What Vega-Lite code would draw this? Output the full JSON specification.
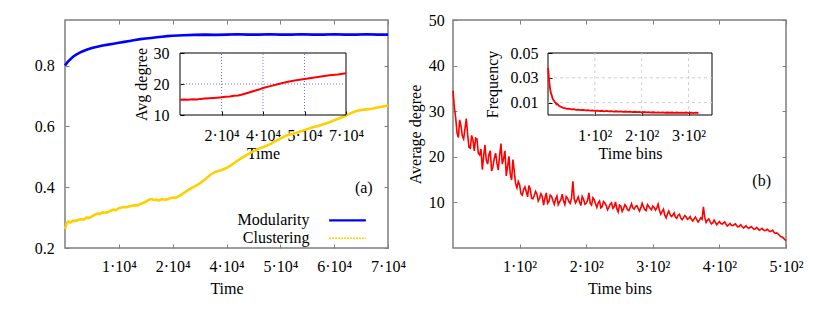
{
  "$schema": "https://vega.github.io/schema/vega-lite/v6.json",
  "padding": {"left": 33, "top": 11, "right": 5, "bottom": 5},
  "spacing": -1,
  "config": {
    "font": "Liberation Serif",
    "view": {"stroke": "#7f7f7f", "strokeWidth": 1.5},
    "axis": {"labelFont": "Liberation Serif", "titleFont": "Liberation Serif", "labelFontSize": 16, "titleFontSize": 16, "titleFontWeight": "normal", "labelColor": "#000", "titleColor": "#000", "grid": false, "tickColor": "#7f7f7f", "labelFlush": false, "labelOverlap": false},
    "legend": {"labelFont": "Liberation Serif"},
    "text": {"font": "Liberation Serif", "fontSize": 16}
  },
  "datasets": {
    "left": [
      {"series":"Modularity","t":0,"v":0.800},{"series":"Modularity","t":0.05,"v":0.812},{"series":"Modularity","t":0.1,"v":0.821},{"series":"Modularity","t":0.15,"v":0.829},{"series":"Modularity","t":0.2,"v":0.835},{"series":"Modularity","t":0.3,"v":0.845},{"series":"Modularity","t":0.4,"v":0.852},{"series":"Modularity","t":0.5,"v":0.858},{"series":"Modularity","t":0.6,"v":0.862},{"series":"Modularity","t":0.7,"v":0.866},{"series":"Modularity","t":0.8,"v":0.869},{"series":"Modularity","t":0.9,"v":0.872},{"series":"Modularity","t":1.0,"v":0.875},{"series":"Modularity","t":1.1,"v":0.878},{"series":"Modularity","t":1.2,"v":0.881},{"series":"Modularity","t":1.3,"v":0.884},{"series":"Modularity","t":1.4,"v":0.887},{"series":"Modularity","t":1.5,"v":0.889},{"series":"Modularity","t":1.6,"v":0.891},{"series":"Modularity","t":1.7,"v":0.893},{"series":"Modularity","t":1.8,"v":0.895},{"series":"Modularity","t":1.9,"v":0.897},{"series":"Modularity","t":2.0,"v":0.898},{"series":"Modularity","t":2.2,"v":0.900},{"series":"Modularity","t":2.4,"v":0.901},{"series":"Modularity","t":2.6,"v":0.902},{"series":"Modularity","t":2.8,"v":0.901},{"series":"Modularity","t":3.0,"v":0.902},{"series":"Modularity","t":3.2,"v":0.903},{"series":"Modularity","t":3.4,"v":0.902},{"series":"Modularity","t":3.6,"v":0.902},{"series":"Modularity","t":3.8,"v":0.903},{"series":"Modularity","t":4.0,"v":0.902},{"series":"Modularity","t":4.2,"v":0.902},{"series":"Modularity","t":4.4,"v":0.903},{"series":"Modularity","t":4.6,"v":0.902},{"series":"Modularity","t":4.8,"v":0.902},{"series":"Modularity","t":5.0,"v":0.903},{"series":"Modularity","t":5.2,"v":0.902},{"series":"Modularity","t":5.4,"v":0.902},{"series":"Modularity","t":5.6,"v":0.903},{"series":"Modularity","t":5.8,"v":0.902},{"series":"Modularity","t":6.0,"v":0.902},
      {"series":"Clustering","t":0,"v":0.262},{"series":"Clustering","t":0.03,"v":0.280},{"series":"Clustering","t":0.06,"v":0.287},{"series":"Clustering","t":0.1,"v":0.284},{"series":"Clustering","t":0.15,"v":0.290},{"series":"Clustering","t":0.2,"v":0.289},{"series":"Clustering","t":0.25,"v":0.293},{"series":"Clustering","t":0.3,"v":0.295},{"series":"Clustering","t":0.35,"v":0.294},{"series":"Clustering","t":0.4,"v":0.300},{"series":"Clustering","t":0.45,"v":0.299},{"series":"Clustering","t":0.5,"v":0.304},{"series":"Clustering","t":0.55,"v":0.309},{"series":"Clustering","t":0.6,"v":0.313},{"series":"Clustering","t":0.65,"v":0.312},{"series":"Clustering","t":0.7,"v":0.317},{"series":"Clustering","t":0.75,"v":0.316},{"series":"Clustering","t":0.8,"v":0.318},{"series":"Clustering","t":0.85,"v":0.323},{"series":"Clustering","t":0.9,"v":0.326},{"series":"Clustering","t":0.95,"v":0.325},{"series":"Clustering","t":1.0,"v":0.331},{"series":"Clustering","t":1.05,"v":0.333},{"series":"Clustering","t":1.1,"v":0.335},{"series":"Clustering","t":1.15,"v":0.334},{"series":"Clustering","t":1.2,"v":0.337},{"series":"Clustering","t":1.25,"v":0.339},{"series":"Clustering","t":1.3,"v":0.341},{"series":"Clustering","t":1.35,"v":0.340},{"series":"Clustering","t":1.4,"v":0.345},{"series":"Clustering","t":1.45,"v":0.348},{"series":"Clustering","t":1.5,"v":0.352},{"series":"Clustering","t":1.55,"v":0.358},{"series":"Clustering","t":1.6,"v":0.361},{"series":"Clustering","t":1.65,"v":0.358},{"series":"Clustering","t":1.7,"v":0.359},{"series":"Clustering","t":1.75,"v":0.357},{"series":"Clustering","t":1.8,"v":0.361},{"series":"Clustering","t":1.85,"v":0.359},{"series":"Clustering","t":1.9,"v":0.360},{"series":"Clustering","t":1.95,"v":0.364},{"series":"Clustering","t":2.0,"v":0.366},{"series":"Clustering","t":2.05,"v":0.365},{"series":"Clustering","t":2.1,"v":0.369},{"series":"Clustering","t":2.15,"v":0.374},{"series":"Clustering","t":2.2,"v":0.380},{"series":"Clustering","t":2.3,"v":0.392},{"series":"Clustering","t":2.4,"v":0.402},{"series":"Clustering","t":2.5,"v":0.412},{"series":"Clustering","t":2.6,"v":0.425},{"series":"Clustering","t":2.7,"v":0.441},{"series":"Clustering","t":2.8,"v":0.451},{"series":"Clustering","t":2.9,"v":0.456},{"series":"Clustering","t":3.0,"v":0.463},{"series":"Clustering","t":3.1,"v":0.474},{"series":"Clustering","t":3.2,"v":0.487},{"series":"Clustering","t":3.3,"v":0.498},{"series":"Clustering","t":3.4,"v":0.509},{"series":"Clustering","t":3.5,"v":0.518},{"series":"Clustering","t":3.6,"v":0.527},{"series":"Clustering","t":3.7,"v":0.533},{"series":"Clustering","t":3.8,"v":0.541},{"series":"Clustering","t":3.9,"v":0.551},{"series":"Clustering","t":4.0,"v":0.560},{"series":"Clustering","t":4.1,"v":0.569},{"series":"Clustering","t":4.2,"v":0.574},{"series":"Clustering","t":4.3,"v":0.579},{"series":"Clustering","t":4.4,"v":0.585},{"series":"Clustering","t":4.5,"v":0.591},{"series":"Clustering","t":4.6,"v":0.597},{"series":"Clustering","t":4.7,"v":0.601},{"series":"Clustering","t":4.8,"v":0.607},{"series":"Clustering","t":4.9,"v":0.613},{"series":"Clustering","t":5.0,"v":0.620},{"series":"Clustering","t":5.1,"v":0.627},{"series":"Clustering","t":5.2,"v":0.634},{"series":"Clustering","t":5.3,"v":0.643},{"series":"Clustering","t":5.4,"v":0.650},{"series":"Clustering","t":5.5,"v":0.654},{"series":"Clustering","t":5.6,"v":0.656},{"series":"Clustering","t":5.7,"v":0.658},{"series":"Clustering","t":5.8,"v":0.662},{"series":"Clustering","t":5.9,"v":0.665},{"series":"Clustering","t":6.0,"v":0.669}
    ],
    "avg": [
      {"t":0,"v":14.9},{"t":0.1,"v":15.0},{"t":0.2,"v":14.9},{"t":0.3,"v":15.1},{"t":0.4,"v":15.0},{"t":0.5,"v":15.2},{"t":0.6,"v":15.3},{"t":0.7,"v":15.4},{"t":0.8,"v":15.5},{"t":0.9,"v":15.6},{"t":1.0,"v":15.7},{"t":1.1,"v":15.9},{"t":1.2,"v":16.0},{"t":1.3,"v":16.2},{"t":1.4,"v":16.3},{"t":1.5,"v":16.6},{"t":1.6,"v":17.0},{"t":1.7,"v":17.4},{"t":1.8,"v":17.8},{"t":1.9,"v":18.2},{"t":2.0,"v":18.7},{"t":2.2,"v":19.4},{"t":2.4,"v":20.1},{"t":2.6,"v":20.7},{"t":2.8,"v":21.2},{"t":3.0,"v":21.6},{"t":3.2,"v":22.0},{"t":3.4,"v":22.4},{"t":3.6,"v":22.8},{"t":3.8,"v":23.1},{"t":4.0,"v":23.5}
    ],
    "deg": [
      {"bin":0,"deg":34.5},{"bin":2,"deg":30.9},{"bin":4,"deg":28.6},{"bin":6,"deg":25.3},{"bin":8,"deg":24.2},{"bin":10,"deg":28.1},{"bin":12,"deg":26.8},{"bin":14,"deg":24.6},{"bin":16,"deg":23.9},{"bin":18,"deg":26.2},{"bin":20,"deg":28.4},{"bin":22,"deg":24.8},{"bin":24,"deg":22.1},{"bin":26,"deg":21.9},{"bin":28,"deg":24.7},{"bin":30,"deg":23.6},{"bin":32,"deg":21.3},{"bin":34,"deg":24.1},{"bin":36,"deg":23.9},{"bin":38,"deg":20.8},{"bin":40,"deg":20.4},{"bin":42,"deg":21.7},{"bin":44,"deg":17.2},{"bin":46,"deg":20.1},{"bin":48,"deg":22.6},{"bin":50,"deg":19.2},{"bin":52,"deg":18.4},{"bin":54,"deg":20.5},{"bin":56,"deg":21.3},{"bin":58,"deg":16.9},{"bin":60,"deg":17.9},{"bin":62,"deg":19.7},{"bin":64,"deg":20.8},{"bin":66,"deg":18.6},{"bin":68,"deg":17.1},{"bin":70,"deg":20.3},{"bin":72,"deg":22.9},{"bin":74,"deg":18.4},{"bin":76,"deg":19.6},{"bin":78,"deg":21.3},{"bin":80,"deg":15.8},{"bin":82,"deg":17.9},{"bin":84,"deg":20.1},{"bin":86,"deg":16.2},{"bin":88,"deg":14.9},{"bin":90,"deg":19.4},{"bin":92,"deg":16.8},{"bin":94,"deg":14.1},{"bin":96,"deg":13.2},{"bin":98,"deg":14.6},{"bin":100,"deg":13.9},{"bin":102,"deg":11.9},{"bin":104,"deg":11.6},{"bin":106,"deg":12.8},{"bin":108,"deg":13.4},{"bin":110,"deg":12.4},{"bin":112,"deg":11.2},{"bin":114,"deg":13.7},{"bin":116,"deg":12.9},{"bin":118,"deg":10.9},{"bin":120,"deg":10.8},{"bin":122,"deg":11.5},{"bin":124,"deg":12.4},{"bin":126,"deg":11.8},{"bin":128,"deg":10.3},{"bin":130,"deg":10.9},{"bin":132,"deg":11.9},{"bin":134,"deg":11.3},{"bin":136,"deg":9.4},{"bin":138,"deg":10.9},{"bin":140,"deg":12.1},{"bin":142,"deg":9.8},{"bin":144,"deg":10.2},{"bin":146,"deg":11.6},{"bin":148,"deg":11.3},{"bin":150,"deg":10.4},{"bin":152,"deg":9.6},{"bin":154,"deg":10.7},{"bin":156,"deg":11.4},{"bin":158,"deg":9.5},{"bin":160,"deg":10.1},{"bin":162,"deg":10.6},{"bin":164,"deg":11.8},{"bin":166,"deg":10.3},{"bin":168,"deg":9.5},{"bin":170,"deg":11.3},{"bin":172,"deg":10.9},{"bin":174,"deg":10.2},{"bin":176,"deg":9.8},{"bin":178,"deg":11.0},{"bin":180,"deg":14.6},{"bin":182,"deg":10.8},{"bin":184,"deg":9.9},{"bin":186,"deg":10.5},{"bin":188,"deg":11.2},{"bin":190,"deg":10.1},{"bin":192,"deg":9.3},{"bin":194,"deg":11.3},{"bin":196,"deg":10.7},{"bin":198,"deg":9.6},{"bin":200,"deg":9.8},{"bin":202,"deg":10.4},{"bin":204,"deg":12.1},{"bin":206,"deg":9.8},{"bin":208,"deg":9.4},{"bin":210,"deg":11.0},{"bin":212,"deg":10.6},{"bin":214,"deg":9.7},{"bin":216,"deg":8.9},{"bin":218,"deg":9.9},{"bin":220,"deg":10.3},{"bin":222,"deg":8.8},{"bin":224,"deg":9.1},{"bin":226,"deg":10.2},{"bin":228,"deg":9.9},{"bin":230,"deg":9.3},{"bin":232,"deg":8.4},{"bin":234,"deg":8.9},{"bin":236,"deg":9.6},{"bin":238,"deg":9.9},{"bin":240,"deg":8.7},{"bin":242,"deg":9.0},{"bin":244,"deg":10.1},{"bin":246,"deg":8.6},{"bin":248,"deg":7.9},{"bin":250,"deg":9.4},{"bin":252,"deg":9.2},{"bin":254,"deg":8.0},{"bin":256,"deg":8.6},{"bin":258,"deg":9.5},{"bin":260,"deg":9.1},{"bin":262,"deg":8.4},{"bin":264,"deg":8.2},{"bin":266,"deg":8.9},{"bin":268,"deg":9.7},{"bin":270,"deg":8.8},{"bin":272,"deg":8.5},{"bin":274,"deg":9.1},{"bin":276,"deg":9.3},{"bin":278,"deg":8.7},{"bin":280,"deg":8.1},{"bin":282,"deg":8.8},{"bin":284,"deg":9.8},{"bin":286,"deg":9.0},{"bin":288,"deg":8.4},{"bin":290,"deg":8.2},{"bin":292,"deg":9.5},{"bin":294,"deg":9.1},{"bin":296,"deg":8.7},{"bin":298,"deg":8.4},{"bin":300,"deg":9.2},{"bin":302,"deg":8.9},{"bin":304,"deg":8.3},{"bin":306,"deg":8.8},{"bin":308,"deg":9.6},{"bin":310,"deg":8.2},{"bin":312,"deg":7.4},{"bin":314,"deg":8.0},{"bin":316,"deg":8.5},{"bin":318,"deg":7.2},{"bin":320,"deg":6.6},{"bin":322,"deg":7.5},{"bin":324,"deg":8.1},{"bin":326,"deg":7.3},{"bin":328,"deg":6.9},{"bin":330,"deg":7.2},{"bin":332,"deg":7.7},{"bin":334,"deg":6.8},{"bin":336,"deg":6.5},{"bin":338,"deg":7.2},{"bin":340,"deg":7.4},{"bin":342,"deg":6.6},{"bin":344,"deg":6.2},{"bin":346,"deg":6.6},{"bin":348,"deg":7.1},{"bin":350,"deg":6.8},{"bin":352,"deg":6.3},{"bin":354,"deg":6.5},{"bin":356,"deg":6.9},{"bin":358,"deg":6.3},{"bin":360,"deg":5.9},{"bin":362,"deg":6.4},{"bin":364,"deg":6.8},{"bin":366,"deg":6.2},{"bin":368,"deg":5.7},{"bin":370,"deg":6.1},{"bin":372,"deg":6.6},{"bin":374,"deg":6.3},{"bin":376,"deg":9.0},{"bin":378,"deg":6.7},{"bin":380,"deg":5.6},{"bin":382,"deg":6.1},{"bin":384,"deg":6.4},{"bin":386,"deg":5.8},{"bin":388,"deg":5.3},{"bin":390,"deg":5.5},{"bin":392,"deg":6.1},{"bin":394,"deg":5.6},{"bin":396,"deg":5.1},{"bin":398,"deg":5.5},{"bin":400,"deg":5.8},{"bin":402,"deg":5.4},{"bin":404,"deg":5.2},{"bin":406,"deg":5.5},{"bin":408,"deg":5.7},{"bin":410,"deg":5.2},{"bin":412,"deg":4.8},{"bin":414,"deg":5.1},{"bin":416,"deg":5.4},{"bin":418,"deg":5.0},{"bin":420,"deg":4.9},{"bin":422,"deg":5.1},{"bin":424,"deg":5.3},{"bin":426,"deg":4.9},{"bin":428,"deg":4.6},{"bin":430,"deg":4.8},{"bin":432,"deg":5.1},{"bin":434,"deg":4.7},{"bin":436,"deg":4.4},{"bin":438,"deg":4.6},{"bin":440,"deg":4.9},{"bin":442,"deg":4.5},{"bin":444,"deg":4.3},{"bin":446,"deg":4.5},{"bin":448,"deg":4.7},{"bin":450,"deg":4.4},{"bin":452,"deg":4.1},{"bin":454,"deg":4.2},{"bin":456,"deg":4.5},{"bin":458,"deg":4.2},{"bin":460,"deg":3.9},{"bin":462,"deg":4.1},{"bin":464,"deg":4.3},{"bin":466,"deg":4.0},{"bin":468,"deg":3.8},{"bin":470,"deg":3.9},{"bin":472,"deg":4.1},{"bin":474,"deg":3.8},{"bin":476,"deg":3.6},{"bin":478,"deg":3.7},{"bin":480,"deg":3.9},{"bin":482,"deg":3.4},{"bin":484,"deg":3.2},{"bin":486,"deg":3.3},{"bin":488,"deg":3.1},{"bin":490,"deg":2.8},{"bin":492,"deg":2.5},{"bin":494,"deg":2.4},{"bin":496,"deg":2.2},{"bin":498,"deg":1.9},{"bin":500,"deg":1.6}
    ],
    "freq": [
      {"bin":0,"f":0.038},{"bin":2,"f":0.030},{"bin":4,"f":0.022},{"bin":6,"f":0.018},{"bin":8,"f":0.016},{"bin":10,"f":0.013},{"bin":12,"f":0.012},{"bin":14,"f":0.0105},{"bin":16,"f":0.010},{"bin":18,"f":0.0085},{"bin":20,"f":0.0088},{"bin":24,"f":0.0072},{"bin":28,"f":0.0065},{"bin":32,"f":0.0058},{"bin":36,"f":0.0055},{"bin":40,"f":0.0050},{"bin":45,"f":0.0052},{"bin":50,"f":0.0045},{"bin":55,"f":0.0047},{"bin":60,"f":0.0042},{"bin":65,"f":0.0044},{"bin":70,"f":0.0040},{"bin":75,"f":0.0041},{"bin":80,"f":0.0037},{"bin":85,"f":0.0039},{"bin":90,"f":0.0035},{"bin":95,"f":0.0037},{"bin":100,"f":0.0033},{"bin":105,"f":0.0035},{"bin":110,"f":0.0032},{"bin":115,"f":0.0034},{"bin":120,"f":0.0030},{"bin":125,"f":0.0033},{"bin":130,"f":0.0029},{"bin":135,"f":0.0031},{"bin":140,"f":0.0028},{"bin":145,"f":0.0030},{"bin":150,"f":0.0027},{"bin":155,"f":0.0029},{"bin":160,"f":0.0026},{"bin":165,"f":0.0028},{"bin":170,"f":0.0025},{"bin":175,"f":0.0027},{"bin":180,"f":0.0024},{"bin":185,"f":0.0026},{"bin":190,"f":0.0023},{"bin":195,"f":0.0025},{"bin":200,"f":0.0022},{"bin":205,"f":0.0024},{"bin":210,"f":0.0021},{"bin":215,"f":0.0023},{"bin":220,"f":0.0020},{"bin":225,"f":0.0022},{"bin":230,"f":0.0019},{"bin":235,"f":0.0021},{"bin":240,"f":0.0019},{"bin":245,"f":0.0021},{"bin":250,"f":0.0018},{"bin":255,"f":0.0020},{"bin":260,"f":0.0018},{"bin":265,"f":0.0020},{"bin":270,"f":0.0017},{"bin":275,"f":0.0020},{"bin":280,"f":0.0017},{"bin":285,"f":0.0019},{"bin":290,"f":0.0017},{"bin":295,"f":0.0020},{"bin":300,"f":0.0016},{"bin":305,"f":0.0019},{"bin":310,"f":0.0016},{"bin":315,"f":0.0019},{"bin":321,"f":0.0016}
    ]
  },
  "resolve": {"scale": {"color": "independent"}, "legend": {"color": "independent"}},
  "hconcat": [
    {
      "width": 323,
      "height": 228,
      "resolve": {"scale": {"x": "independent", "y": "independent"}},
      "layer": [
        {
          "layer": [
            {
              "data": {"name": "left"},
              "mark": {"type": "line", "strokeWidth": 2.6},
              "encoding": {
                "x": {"field": "t", "type": "quantitative", "scale": {"domain": [0, 6], "nice": false, "zero": false},
                  "axis": {"values": [1, 2, 3, 4, 5, 6], "labelExpr": "['','1·10⁴','2·10⁴','4·10⁴','5·10⁴','6·10⁴','7·10⁴'][datum.value]", "title": "Time", "labelFont": "Liberation Serif", "titleFont": "Liberation Serif", "domain": false, "tickSize": -4, "labelPadding": 14.5, "titlePadding": 6}},
                "y": {"field": "v", "type": "quantitative", "scale": {"domain": [0.2, 0.95], "nice": false, "zero": false},
                  "axis": {"values": [0.2, 0.4, 0.6, 0.8], "format": ".1f", "title": null, "labelFont": "Liberation Serif", "domain": false, "tickSize": -4, "labelPadding": 14.7}},
                "color": {"field": "series", "type": "nominal", "scale": {"domain": ["Modularity", "Clustering"], "range": ["#0000ff", "#ffd000"]},
                  "legend": {"orient": "none", "legendX": 274.5, "legendY": 192.3, "title": null, "padding": 0, "symbolType": "M-2.45,0H2.45", "symbolSize": 225, "symbolStrokeWidth": 2.2, "labelFont": "Liberation Serif", "labelFontSize": 16, "labelColor": "#000", "labelAlign": "right", "labelOffset": -46, "rowPadding": 2, "labelLimit": 300,
                    "encode": {
                      "symbols": {"update": {
                        "stroke": {"signal": "datum.value === 'Clustering' ? '#ffd000' : '#0000ff'"},
                        "strokeDash": {"signal": "datum.value === 'Clustering' ? [2, 1] : [1, 0]"},
                        "strokeWidth": {"signal": "datum.value === 'Clustering' ? 1.6 : 2.2"},
                        "opacity": {"value": 1}}},
                      "labels": {"update": {"lineHeight": {"value": 14}, "fill": {"value": "#000"}, "opacity": {"value": 1}}}}}}
              }
            },
            {
              "data": {"values": [{"label": "(a)"}]},
              "mark": {"type": "text", "fontSize": 16, "font": "Liberation Serif", "align": "center", "baseline": "middle", "color": "#000"},
              "encoding": {
                "x": {"datum": 5.55, "type": "quantitative"},
                "y": {"datum": 0.398, "type": "quantitative"},
                "text": {"field": "label"}
              }
            }
          ]
        },
        {
          "data": {"name": "left"},
          "mark": {"type": "point", "opacity": 0},
          "encoding": {
            "x": {"field": "t", "type": "quantitative", "scale": {"domain": [0, 6], "nice": false, "zero": false},
              "axis": {"orient": "top", "values": [1, 2, 3, 4, 5, 6], "labels": false, "domain": false, "tickSize": -4, "title": null}},
            "y": {"field": "v", "type": "quantitative", "scale": {"domain": [0.2, 0.95], "nice": false, "zero": false},
              "axis": {"orient": "right", "values": [0.2, 0.4, 0.6, 0.8], "labels": false, "domain": false, "tickSize": -4, "title": null}}
          }
        },
        {
          "layer": [
            {
              "data": {"values": [{"box": "inset"}]},
              "mark": {"type": "rect", "fill": "transparent", "stroke": "#000", "strokeWidth": 1},
              "encoding": {
                "x": {"datum": 0, "type": "quantitative", "scale": {"domain": [0, 4], "range": [115, 281], "nice": false, "zero": false},
                  "axis": {"orient": "bottom", "offset": -133, "values": [1, 2, 3, 4], "labelExpr": "['','2·10⁴','4·10⁴','5·10⁴','7·10⁴'][datum.value]", "title": "Time", "labelFont": "Liberation Serif", "titleFont": "Liberation Serif", "domain": false, "tickSize": -4, "tickColor": "#000", "labelPadding": 16.4, "titlePadding": 2}},
                "x2": {"datum": 4},
                "y": {"datum": 10, "type": "quantitative", "scale": {"domain": [10, 30], "range": [95, 33], "nice": false, "zero": false},
                  "axis": {"orient": "left", "offset": -115, "values": [10, 20, 30], "title": "Avg degree", "labelFont": "Liberation Serif", "titleFont": "Liberation Serif", "domain": false, "tickSize": -4, "tickColor": "#000", "labelPadding": 15, "titlePadding": 4}},
                "y2": {"datum": 30}
              }
            },
            {
              "data": {"values": [{"gx": 1}, {"gx": 2}, {"gx": 3}]},
              "mark": {"type": "rule", "color": "#7070ff", "strokeWidth": 1, "strokeDash": [1, 2]},
              "encoding": {
                "x": {"field": "gx", "type": "quantitative", "title": "Time"},
                "y": {"datum": 10, "type": "quantitative", "title": "Avg degree"},
                "y2": {"datum": 30}
              }
            },
            {
              "data": {"values": [{"gy": 20}]},
              "mark": {"type": "rule", "color": "#7070ff", "strokeWidth": 1, "strokeDash": [1, 2]},
              "encoding": {
                "y": {"field": "gy", "type": "quantitative", "title": "Avg degree"},
                "x": {"datum": 0, "type": "quantitative", "title": "Time"},
                "x2": {"datum": 4}
              }
            },
            {
              "data": {"name": "avg"},
              "mark": {"type": "line", "color": "#ff0000", "strokeWidth": 2},
              "encoding": {
                "x": {"field": "t", "type": "quantitative", "title": "Time"},
                "y": {"field": "v", "type": "quantitative", "title": "Avg degree"}
              }
            }
          ]
        }
      ]
    },
    {
      "width": 333,
      "height": 228,
      "resolve": {"scale": {"x": "independent", "y": "independent"}},
      "layer": [
        {
          "layer": [
            {
              "data": {"name": "deg"},
              "mark": {"type": "line", "color": "#ff0000", "strokeWidth": 1.6},
              "encoding": {
                "x": {"field": "bin", "type": "quantitative", "scale": {"domain": [0, 500], "nice": false, "zero": false},
                  "axis": {"values": [100, 200, 300, 400, 500], "labelExpr": "(datum.value/100) + '·10²'", "title": "Time bins", "labelFont": "Liberation Serif", "titleFont": "Liberation Serif", "domain": false, "tickSize": -4, "labelPadding": 14.5, "titlePadding": 6}},
                "y": {"field": "deg", "type": "quantitative", "scale": {"domain": [0, 50], "nice": false, "zero": false},
                  "axis": {"values": [10, 20, 30, 40, 50], "title": "Average degree", "labelFont": "Liberation Serif", "titleFont": "Liberation Serif", "domain": false, "tickSize": -4, "labelPadding": 12.7, "titlePadding": 5}}
              }
            },
            {
              "data": {"values": [{"label": "(b)"}]},
              "mark": {"type": "text", "fontSize": 16, "font": "Liberation Serif", "align": "center", "baseline": "middle", "color": "#000"},
              "encoding": {
                "x": {"datum": 463.5, "type": "quantitative"},
                "y": {"datum": 14.8, "type": "quantitative"},
                "text": {"field": "label"}
              }
            }
          ]
        },
        {
          "data": {"name": "deg"},
          "mark": {"type": "point", "opacity": 0},
          "encoding": {
            "x": {"field": "bin", "type": "quantitative", "scale": {"domain": [0, 500], "nice": false, "zero": false},
              "axis": {"orient": "top", "values": [100, 200, 300, 400, 500], "labels": false, "domain": false, "tickSize": -4, "title": null}},
            "y": {"field": "deg", "type": "quantitative", "scale": {"domain": [0, 50], "nice": false, "zero": false},
              "axis": {"orient": "right", "values": [10, 20, 30, 40, 50], "labels": false, "domain": false, "tickSize": -4, "title": null}}
          }
        },
        {
          "layer": [
            {
              "data": {"values": [{"box": "inset"}]},
              "mark": {"type": "rect", "fill": "transparent", "stroke": "#000", "strokeWidth": 1},
              "encoding": {
                "x": {"datum": 0, "type": "quantitative", "scale": {"domain": [0, 350], "range": [95, 259], "nice": false, "zero": false},
                  "axis": {"orient": "bottom", "offset": -133, "values": [100, 200, 300], "labelExpr": "(datum.value/100) + '·10²'", "title": "Time bins", "labelFont": "Liberation Serif", "titleFont": "Liberation Serif", "domain": false, "tickSize": -4, "tickColor": "#000", "labelPadding": 16.4, "titlePadding": 2}},
                "x2": {"datum": 350},
                "y": {"datum": 0, "type": "quantitative", "scale": {"domain": [0, 0.05], "range": [95, 33], "nice": false, "zero": false},
                  "axis": {"orient": "left", "offset": -95, "values": [0.01, 0.03, 0.05], "format": ".2f", "title": "Frequency", "labelFont": "Liberation Serif", "titleFont": "Liberation Serif", "domain": false, "tickSize": -4, "tickColor": "#000", "labelPadding": 14, "titlePadding": 10}},
                "y2": {"datum": 0.05}
              }
            },
            {
              "data": {"values": [{"gx": 100}, {"gx": 200}, {"gx": 300}]},
              "mark": {"type": "rule", "color": "#d0d0d0", "strokeWidth": 1, "strokeDash": [3, 3]},
              "encoding": {
                "x": {"field": "gx", "type": "quantitative", "title": "Time bins"},
                "y": {"datum": 0, "type": "quantitative", "title": "Frequency"},
                "y2": {"datum": 0.05}
              }
            },
            {
              "data": {"values": [{"gy": 0.01}, {"gy": 0.03}]},
              "mark": {"type": "rule", "color": "#d0d0d0", "strokeWidth": 1, "strokeDash": [3, 3]},
              "encoding": {
                "y": {"field": "gy", "type": "quantitative", "title": "Frequency"},
                "x": {"datum": 0, "type": "quantitative", "title": "Time bins"},
                "x2": {"datum": 350}
              }
            },
            {
              "data": {"name": "freq"},
              "mark": {"type": "line", "color": "#ff0000", "strokeWidth": 1.8},
              "encoding": {
                "x": {"field": "bin", "type": "quantitative", "title": "Time bins"},
                "y": {"field": "f", "type": "quantitative", "title": "Frequency"}
              }
            }
          ]
        }
      ]
    }
  ]
}
